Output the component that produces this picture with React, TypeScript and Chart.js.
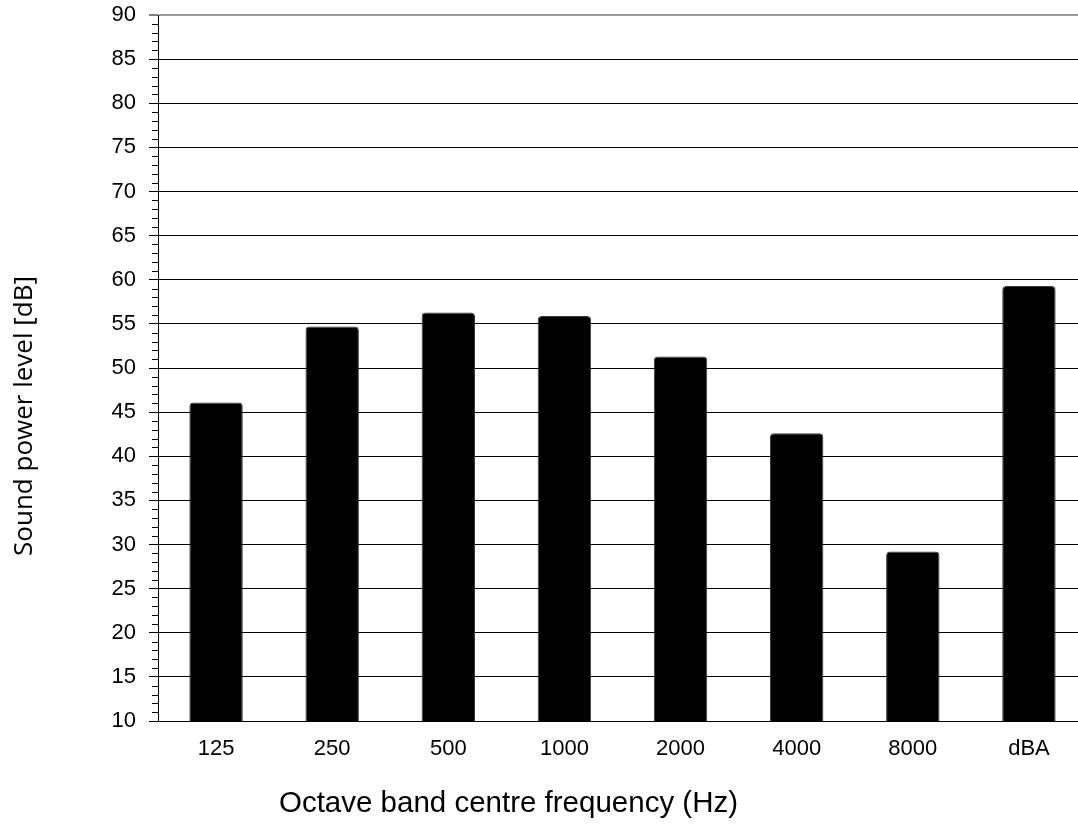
import React, { useEffect, useRef } from 'react';
import { Chart, registerables } from 'chart.js';

Chart.register(...registerables);

const categories = ['125', '250', '500', '1000', '2000', '4000', '8000', 'dBA'];
const levels = [46.1, 54.7, 56.3, 55.9, 51.3, 42.6, 29.2, 59.3];
const yMin = 10;
const yMax = 90;
const yStep = 5;
const yMinorStep = 1;
const xTitle = 'Octave band centre frequency (Hz)';
const yTitle = 'Sound power level [dB]';

const ARIAL = '"Liberation Sans", Arial, sans-serif';

export default function App() {
  const ref = useRef<HTMLCanvasElement>(null);

  useEffect(() => {
    const canvas = ref.current!;
    const extras = {
      id: 'extras',
      afterDraw(chart: any) {
        const ctx = chart.ctx;
        const ys = chart.scales.y;
        ctx.save();
        ctx.strokeStyle = '#000';
        ctx.lineWidth = 1;
        const x0 = ys.right;
        for (let v = yMin; v <= yMax; v += yMinorStep) {
          if (v % yStep === 0) continue;
          const py = Math.round(ys.getPixelForValue(v)) + 0.5;
          ctx.beginPath();
          ctx.moveTo(x0 - 6, py);
          ctx.lineTo(x0, py);
          ctx.stroke();
        }
        // y title
        ctx.fillStyle = '#000';
        ctx.save();
        ctx.translate(32, 416);
        ctx.rotate(-Math.PI / 2);
        ctx.font = '26px "Open Sans", sans-serif';
        ctx.textAlign = 'center';
        ctx.textBaseline = 'alphabetic';
        ctx.fillText(yTitle, 0, 0);
        ctx.restore();
        // x title
        ctx.font = '29.5px ' + ARIAL;
        ctx.textAlign = 'center';
        ctx.textBaseline = 'alphabetic';
        ctx.fillText(xTitle, 508.5, 812);
        ctx.restore();
      },
    };

    const chart = new Chart(canvas, {
      type: 'bar',
      data: {
        labels: categories,
        datasets: [
          {
            data: levels,
            backgroundColor: '#000',
            borderColor: '#3a3a3a',
            borderWidth: 1,
            borderRadius: 4,
            barPercentage: 0.46,
            categoryPercentage: 1,
          },
        ],
      },
      options: {
        responsive: false,
        animation: false,
        layout: { padding: { top: 15, right: 3, left: 0, bottom: 0 } },
        plugins: {
          legend: { display: false },
          tooltip: { enabled: false },
        },
        scales: {
          x: {
            grid: { display: false, drawTicks: false },
            border: { display: true, color: '#000', width: 1 },
            ticks: {
              color: '#000',
              padding: 15,
              font: { family: ARIAL, size: 22 },
            },
            afterFit(scale: any) {
              scale.height = 104;
              scale.paddingLeft = 0;
              scale.paddingRight = 0;
            },
          },
          y: {
            min: yMin,
            max: yMax,
            grid: {
              color: (c: any) => (c.tick && c.tick.value === yMax ? '#9a9a9a' : '#000'),
              lineWidth: (c: any) => (c.tick && c.tick.value === yMax ? 2 : 1),
              tickColor: '#000',
              tickLength: 9,
              tickWidth: 1,
            },
            border: { display: true, color: '#000', width: 1 },
            ticks: {
              stepSize: yStep,
              color: '#000',
              padding: 13,
              font: { family: ARIAL, size: 22 },
            },
            afterFit(scale: any) {
              scale.width = 158;
              scale.paddingTop = 0;
              scale.paddingBottom = 0;
            },
          },
        },
      },
      plugins: [extras],
    });
    return () => chart.destroy();
  }, []);

  return (
    <div
      style={{
        position: 'absolute',
        left: 0,
        top: 0,
        width: 1078,
        height: 825,
        overflow: 'hidden',
        background: '#fff',
      }}
    >
      <canvas ref={ref} width={1090} height={825} style={{ display: 'block' }} />
    </div>
  );
}
